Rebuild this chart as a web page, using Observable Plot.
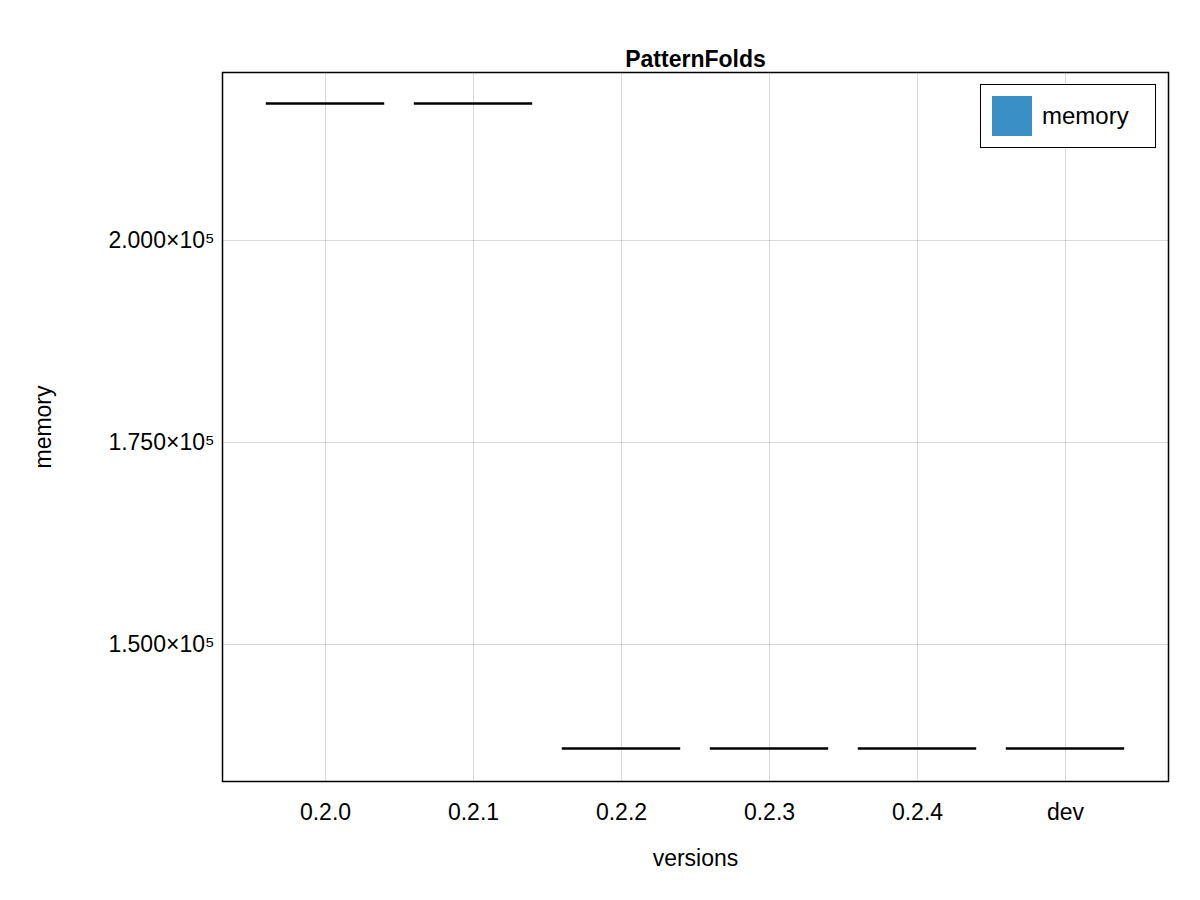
<!DOCTYPE html>
<html><head><meta charset="utf-8">
<script src="https://cdn.jsdelivr.net/npm/d3@7"></script>
<script src="https://cdn.jsdelivr.net/npm/@observablehq/plot@0.6"></script>
<style>body{margin:0;background:#fff;font-family:"Liberation Sans",Arial,sans-serif}#wrap{position:relative;width:1200px;height:900px}
#leg{position:absolute;left:980px;top:84px;width:176px;height:64px;border:1.5px solid #000;background:#fff;box-sizing:border-box;display:flex;align-items:center;font-size:24px}
#leg span.sw{display:inline-block;width:40px;height:40px;background:#3a8fc4;margin:0 10px 0 11px}</style>
</head><body><div id="wrap"><div id="leg"><span class="sw"></span>memory</div></div>
<script>
const versions = ["0.2.0","0.2.1","0.2.2","0.2.3","0.2.4","dev"];
const memory = [216960, 216960, 137130, 137130, 137130, 137130];
const yTicks = [150000, 175000, 200000];
const yLabels = ["1.500×10⁵","1.750×10⁵","2.000×10⁵"];
const data = versions.map((v,i)=>({i:i+1, v, m:memory[i]}));
const chart = Plot.plot({
  width:1200, height:900, marginLeft:222, marginRight:32, marginTop:72, marginBottom:119,
  style:{fontFamily:"Liberation Sans, Arial, sans-serif", fontSize:"23px", color:"#000"},
  x:{domain:[1-0.696, 6+0.696], ticks:[1,2,3,4,5,6], tickFormat:d=>versions[d-1], label:"versions", labelArrow:"none", labelAnchor:"center", labelOffset:84, tickSize:0, tickPadding:22},
  y:{domain:[133045, 220792], ticks:yTicks, tickFormat:d=>yLabels[yTicks.indexOf(d)], label:"memory", labelArrow:"none", labelAnchor:"center", labelOffset:188, tickSize:0, tickPadding:8},
  marks:[
    Plot.gridX([1,2,3,4,5,6], {stroke:"#000", strokeOpacity:0.15}),
    Plot.gridY(yTicks, {stroke:"#000", strokeOpacity:0.15}),
    Plot.ruleY(data, {y:"m", x1:d=>d.i-0.4, x2:d=>d.i+0.4, stroke:"#000", strokeWidth:2.5}),
    Plot.frame({stroke:"#000", strokeWidth:1.5}),
    Plot.text(["PatternFolds"], {frameAnchor:"top", dy:-22, fontWeight:"bold", fontSize:23})
  ]
});
document.getElementById("wrap").prepend(chart);
</script></body></html>
